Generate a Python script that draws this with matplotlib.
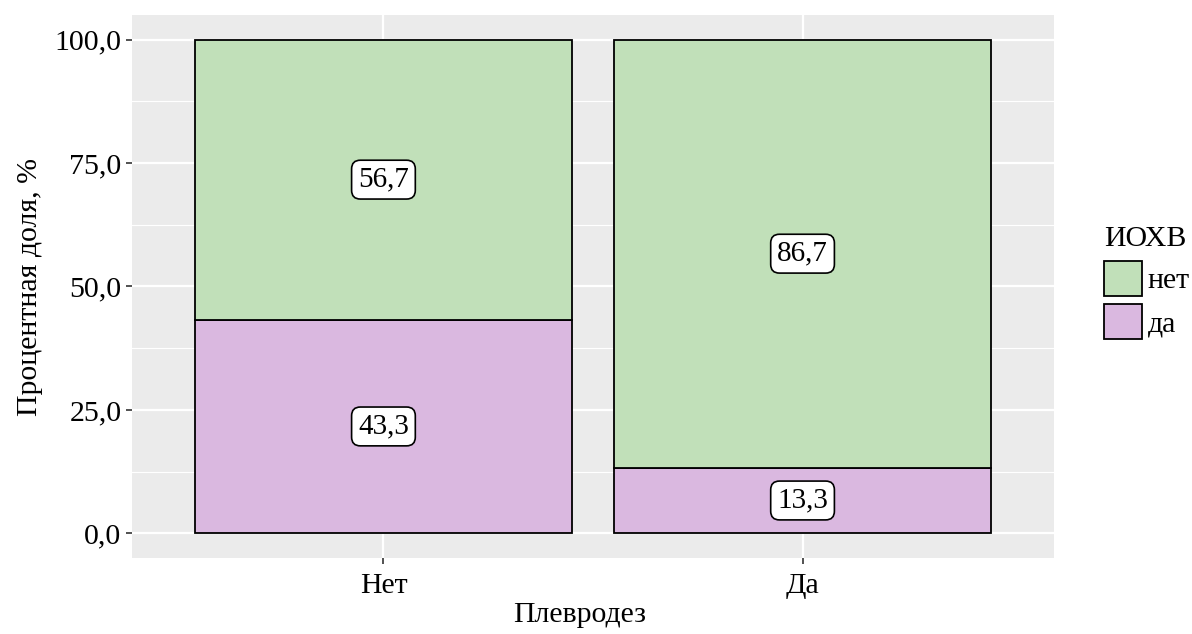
import numpy as np
import matplotlib
matplotlib.use("Agg")
import matplotlib.pyplot as plt
from matplotlib.patches import Patch
from matplotlib.ticker import MultipleLocator, FuncFormatter

plt.rcParams['font.family'] = ['Liberation Serif', 'DejaVu Serif']

# data
groups = ["Нет", "Да"]
share_da = [43.3, 13.3]    # ИОХВ = да
share_net = [56.7, 86.7]   # ИОХВ = нет
legend_title = "ИОХВ"
x_label = "Плевродез"
y_label = "Процентная доля, %"

col_net = "#c1e0b9"
col_da = "#dab8e0"
fs = 21.5

fig = plt.figure(figsize=(11.92, 6.34), dpi=100)
ax = fig.add_axes([132/1192, 76/634, 922/1192, 543/634])
ax.set_facecolor("#ebebeb")

x = np.arange(1, len(groups) + 1)
ax.bar(x, share_da, width=0.9, color=col_da, edgecolor="black", linewidth=1.3, zorder=3)
ax.bar(x, share_net, width=0.9, bottom=share_da, color=col_net, edgecolor="black",
       linewidth=1.3, zorder=3)

box = dict(boxstyle="round,pad=0.22,rounding_size=0.3", fc="white", ec="black", lw=1.2)
for xi, d, n in zip(x, share_da, share_net):
    ax.text(xi, d / 2, f"{d:.1f}".replace(".", ","), ha="center", va="center",
            fontsize=fs - 0.5, bbox=box, zorder=4)
    ax.text(xi, d + n / 2, f"{n:.1f}".replace(".", ","), ha="center", va="center",
            fontsize=fs - 0.5, bbox=box, zorder=4)

ax.set_xlim(0.4, 2.6)
ax.set_ylim(-5, 105)
ax.set_xticks(x)
ax.set_xticklabels(groups)
ax.yaxis.set_major_locator(MultipleLocator(25))
ax.yaxis.set_minor_locator(MultipleLocator(12.5))
ax.yaxis.set_major_formatter(FuncFormatter(lambda v, p: f"{v:.1f}".replace(".", ",")))
ax.grid(which="major", color="white", lw=1.6, zorder=0)
ax.grid(which="minor", axis="y", color="white", lw=0.8, zorder=0)
ax.tick_params(which="major", length=4.5, width=1.2, color="#333333", labelsize=fs,
               labelcolor="black", pad=3)
ax.tick_params(axis="x", pad=6)
ax.tick_params(which="minor", length=0)
for s in ax.spines.values():
    s.set_visible(False)
ax.set_axisbelow(True)

ax.set_xlabel(x_label, fontsize=fs)
ax.xaxis.set_label_coords((580 - 132) / 922, (558 - 602) / 543)
ax.set_ylabel(y_label, fontsize=fs, labelpad=8)

handles = [Patch(fc=col_net, ec="black", lw=1.3, label="нет"),
           Patch(fc=col_da, ec="black", lw=1.3, label="да")]
leg = fig.legend(handles=handles, title=legend_title, loc="upper left",
                 bbox_to_anchor=(1100/1192, 1 - 222/634), frameon=False,
                 fontsize=fs, title_fontsize=fs, handlelength=1.24, handleheight=1.44,
                 handletextpad=0.2, labelspacing=0.27, borderpad=0.15,
                 borderaxespad=0)
leg._legend_box.align = "left"

fig.savefig("out.png", dpi=100)
